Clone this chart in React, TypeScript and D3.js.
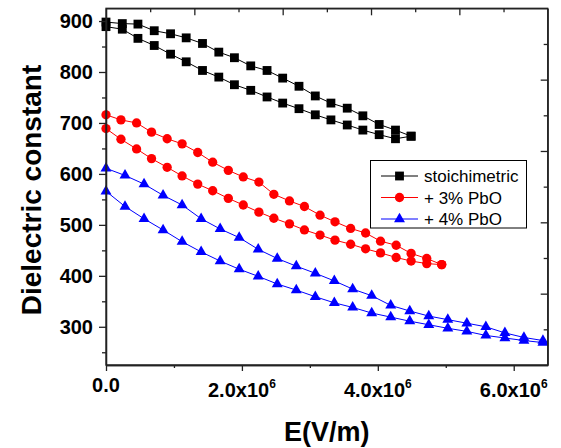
import React, { useEffect, useRef } from 'react'
import * as d3 from 'd3'

// field values are in units of 10^6 V/m
const eStoich = [0, 0.24, 0.47, 0.71, 0.95, 1.18, 1.42, 1.66, 1.89, 2.13, 2.37, 2.6, 2.84, 3.08, 3.31, 3.55, 3.78, 4.02, 4.26, 4.49]
const stoichUpper = [898, 895, 894, 881, 875, 867, 856, 839, 828, 812, 803, 788, 772, 753, 739, 729, 714, 697, 686, 674]
const stoichLower = [889, 884, 866, 852, 835, 820, 803, 790, 775, 764, 751, 739, 728, 716, 706, 696, 686, 677, 669, 674]

const ePbo3 = [0, 0.22, 0.45, 0.67, 0.9, 1.12, 1.35, 1.57, 1.8, 2.02, 2.25, 2.47, 2.7, 2.92, 3.15, 3.37, 3.6, 3.82, 4.04, 4.27, 4.49, 4.72, 4.94]
const pbo3Upper = [716, 706, 700, 682, 669, 659, 642, 623, 607, 594, 584, 560, 547, 536, 519, 506, 493, 484, 468, 460, 444, 434, 422]
const pbo3Lower = [689, 668, 649, 630, 613, 596, 580, 567, 552, 539, 525, 513, 502, 490, 480, 470, 462, 453, 445, 436, 429, 424, 422]

const ePbo4 = [0, 0.28, 0.56, 0.84, 1.12, 1.4, 1.68, 1.96, 2.24, 2.52, 2.8, 3.08, 3.36, 3.63, 3.91, 4.19, 4.47, 4.75, 5.03, 5.31, 5.59, 5.87, 6.15, 6.43]
const pbo4Upper = [611, 597, 580, 558, 539, 512, 492, 475, 452, 434, 419, 405, 390, 374, 361, 342, 331, 321, 314, 307, 300, 288, 279, 273]
const pbo4Lower = [566, 536, 512, 490, 467, 447, 429, 413, 399, 384, 372, 359, 347, 338, 327, 319, 311, 304, 297, 291, 283, 278, 273, 269]

const yTicks = [300, 400, 500, 600, 700, 800, 900]
const yMinorTicks = [250, 350, 450, 550, 650, 750, 850]
const xTicks = [0, 2, 4, 6]
const xMinorTicks = [1, 3, 5]
const xTickLabels = ['0.0', '2.0x10', '4.0x10', '6.0x10']
const frameTicks = [1, 2, 3, 4, 5, 6, 7, 8, 9]

const legendLabels = ['stoichimetric', '+ 3% PbO', '+ 4% PbO']

const FONT = "'Liberation Sans', Arial, Helvetica, sans-serif"
const AXIS_COLOR = '#222'

type Series = { label: string, x: number[], upper: number[], lower: number[], color: string, shape: d3.SymbolType }

const series: Series[] = [
    { label: legendLabels[0], x: eStoich, upper: stoichUpper, lower: stoichLower, color: '#000000', shape: d3.symbolSquare },
    { label: legendLabels[1], x: ePbo3, upper: pbo3Upper, lower: pbo3Lower, color: '#ff0000', shape: d3.symbolCircle },
    { label: legendLabels[2], x: ePbo4, upper: pbo4Upper, lower: pbo4Lower, color: '#0000ff', shape: d3.symbolTriangle },
]

const symbolSize = (shape: d3.SymbolType) => {
    if (shape === d3.symbolSquare) return 78
    if (shape === d3.symbolCircle) return 68
    return 52
}

function HysteresisChart() {
    const ref = useRef<SVGSVGElement | null>(null)

    useEffect(() => {
        const width = 561
        const height = 448
        const left = 106, right = 547.7, top = 8.3, bottom = 365

        const svg = d3.select(ref.current)
        svg.selectAll('*').remove()
        svg.attr('width', width).attr('height', height)

        const x = d3.scaleLinear().domain([0, 6.5]).range([left, right])
        const y = d3.scaleLinear().domain([225, 925]).range([bottom, top])
        // top / right axes carry ticks only
        const xTop = d3.scaleLinear().domain([0, 10]).range([left, right])
        const yRight = d3.scaleLinear().domain([0, 10]).range([bottom, top])

        // series
        const g = svg.append('g')
        series.forEach(s => {
            const line = d3.line<number>()
                .x((_, i) => x(s.x[i]))
                .y(d => y(d))
            for (const branch of [s.upper, s.lower]) {
                g.append('path')
                    .attr('d', line(branch))
                    .attr('fill', 'none')
                    .attr('stroke', s.color)
                    .attr('stroke-width', 1)
                g.selectAll(null)
                    .data(branch)
                    .join('path')
                    .attr('transform', (d, i) => `translate(${x(s.x[i])},${y(d)})`)
                    .attr('d', d3.symbol().type(s.shape).size(symbolSize(s.shape))())
                    .attr('fill', s.color)
            }
        })

        // frame
        svg.append('rect')
            .attr('x', left).attr('y', top)
            .attr('width', right - left).attr('height', bottom - top)
            .attr('fill', 'none')
            .attr('stroke', AXIS_COLOR)
            .attr('stroke-width', 1.3)

        // left axis
        const yAxis = svg.append('g')
            .attr('transform', `translate(${left},0)`)
            .call(d3.axisLeft(y).tickValues(yTicks).tickSize(7).tickSizeOuter(0).tickPadding(6).tickFormat(d3.format('d')))
        svg.append('g')
            .attr('transform', `translate(${left},0)`)
            .call(d3.axisLeft(y).tickValues(yMinorTicks).tickSize(4).tickSizeOuter(0).tickFormat(() => ''))

        yAxis.selectAll('text')
            .attr('font-family', FONT)
            .attr('font-size', 20)
            .attr('font-weight', 'bold')
            .attr('fill', '#000')

        // bottom axis
        svg.append('g')
            .attr('transform', `translate(0,${bottom})`)
            .call(d3.axisBottom(x).tickValues(xTicks).tickSize(6).tickSizeOuter(0).tickFormat(() => ''))
        svg.append('g')
            .attr('transform', `translate(0,${bottom})`)
            .call(d3.axisBottom(x).tickValues(xMinorTicks).tickSize(3).tickSizeOuter(0).tickFormat(() => ''))

        // inward ticks on top and right
        svg.append('g')
            .attr('transform', `translate(0,${top})`)
            .call(d3.axisBottom(xTop).tickValues(frameTicks).tickSize(0).tickSizeOuter(0).tickFormat(() => ''))
            .call(ax => ax.selectAll('.tick line').attr('y2', (d: any) => d % 2 === 0 ? 7 : 4))
        svg.append('g')
            .attr('transform', `translate(${right},0)`)
            .call(d3.axisLeft(yRight).tickValues(frameTicks).tickSize(0).tickSizeOuter(0).tickFormat(() => ''))
            .call(ax => ax.selectAll('.tick line').attr('x2', (d: any) => d % 2 === 0 ? -7 : -4))

        svg.selectAll('.domain').attr('stroke', AXIS_COLOR).attr('stroke-width', 1.3)
        svg.selectAll('.tick line').attr('stroke', AXIS_COLOR).attr('stroke-width', 1.3)

        // x tick labels with power of ten
        xTicks.forEach((t, i) => {
            const txt = svg.append('text')
                .attr('x', x(t))
                .attr('y', i === 0 ? 392 : 397)
                .attr('text-anchor', 'middle')
                .attr('font-family', FONT)
                .attr('font-size', 20)
                .attr('font-weight', 'bold')
                .text(xTickLabels[i])
            if (i > 0) {
                txt.append('tspan')
                    .attr('dy', -9)
                    .attr('font-size', 12)
                    .text('6')
            }
        })

        // axis titles
        svg.append('text')
            .attr('x', (left + right) / 2)
            .attr('y', 441)
            .attr('text-anchor', 'middle')
            .attr('font-family', FONT)
            .attr('font-size', 27)
            .attr('font-weight', 'bold')
            .text('E(V/m)')

        svg.append('text')
            .attr('transform', `translate(41,190) rotate(-90)`)
            .attr('text-anchor', 'middle')
            .attr('font-family', FONT)
            .attr('font-size', 28)
            .attr('font-weight', 'bold')
            .text('Dielectric constant')

        // legend
        const legend = svg.append('g')
        legend.append('rect')
            .attr('x', 370.5).attr('y', 160.5)
            .attr('width', 156).attr('height', 67.5)
            .attr('fill', '#fff')
            .attr('stroke', '#000')
            .attr('stroke-width', 1)

        const rowY = [176, 197.5, 219]
        series.forEach((s, i) => {
            const row = legend.append('g').attr('transform', `translate(0,${rowY[i]})`)
            row.append('line')
                .attr('x1', 381).attr('x2', 418)
                .attr('stroke', s.color)
                .attr('stroke-width', 1)
            row.append('path')
                .attr('transform', 'translate(399.5,0)')
                .attr('d', d3.symbol().type(s.shape).size(symbolSize(s.shape))())
                .attr('fill', s.color)
            row.append('text')
                .attr('x', 424)
                .attr('y', 6)
                .attr('font-family', FONT)
                .attr('font-size', 17)
                .text(s.label)
        })
    }, [])

    return <svg ref={ref} style={{ position: 'absolute', left: 0, top: 0, background: '#fff' }} />
}

export default function App() {
    return <HysteresisChart />
}
